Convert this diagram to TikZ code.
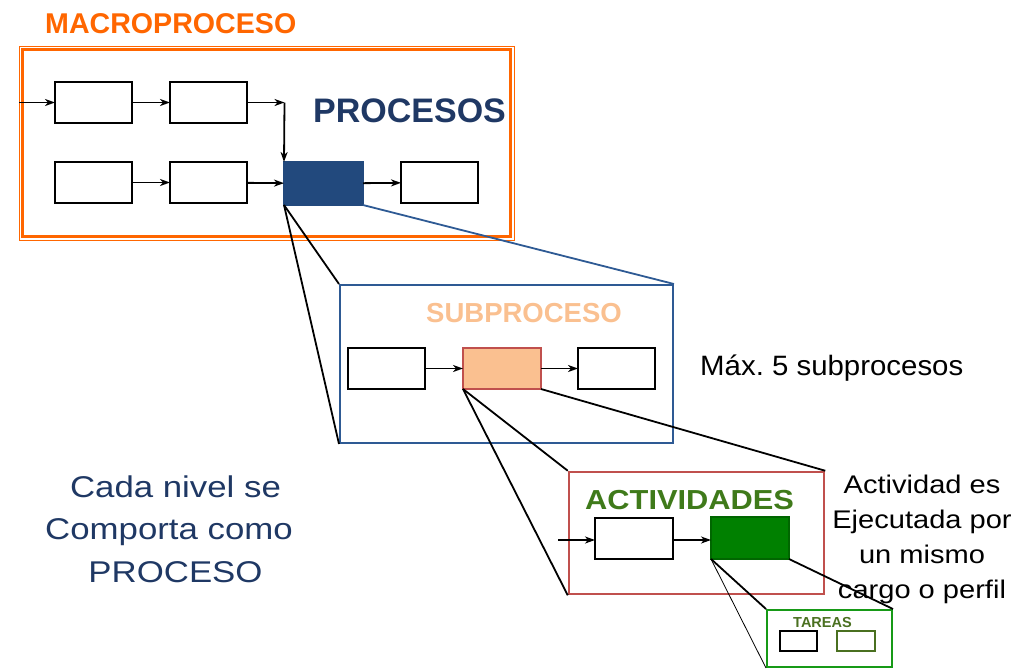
\documentclass[tikz,border=0pt]{standalone}
\usepackage{fontspec}
\setmainfont{Liberation Sans}
\usetikzlibrary{arrows.meta}
\frenchspacing
\definecolor{macro}{HTML}{FF6600}
\definecolor{procblue}{HTML}{1F3864}
\definecolor{darkbox}{HTML}{22497D}
\definecolor{subframe}{HTML}{2E5A94}
\definecolor{peach}{HTML}{FAC090}
\definecolor{redframe}{HTML}{C0504D}
\definecolor{actgreen}{HTML}{3F7A1A}
\definecolor{boxgreen}{HTML}{008000}
\definecolor{tarframe}{HTML}{179A17}
\definecolor{olive}{HTML}{4A7020}
\tikzset{
  pbox/.style={draw=black, line width=2pt, fill=white, minimum width=77pt, minimum height=41pt, inner sep=0pt, outer sep=0pt},
  flow/.style={line width=1.8pt, -{Stealth[length=10pt,width=7pt,inset=3pt]}},
  zoomline/.style={line width=1.8pt},
  lbl/.style={inner sep=0pt, anchor=base west},
  txt/.style={inner sep=0pt, anchor=base},
}
\begin{document}
\begin{tikzpicture}[x=1pt,y=-1pt]
\useasboundingbox (0,0) rectangle (1024,670);
% MACROPROCESO
\node[lbl, text=macro, font=\fontsize{28.6}{30}\selectfont\bfseries] (tmacro) at (45,33) {MACROPROCESO};
\draw[macro, line width=1pt] (19,46) rectangle (514,240);
\node[draw=macro, line width=3pt, minimum width=488pt, minimum height=187pt, inner sep=0pt] (macroframe) at (266.5,143) {};
\node[lbl, text=procblue, font=\fontsize{34}{36}\selectfont\bfseries] (tproc) at (313,122) {PROCESOS};
\node[pbox] (b1) at (93.5,102.5) {};
\node[pbox] (b2) at (208.5,102.5) {};
\node[pbox] (b3) at (93.5,182.5) {};
\node[pbox] (b4) at (208.5,182.5) {};
\node[pbox, draw=darkbox, fill=darkbox, minimum width=79pt, minimum height=43pt] (dk) at (323.5,183.5) {};
\node[pbox] (b5) at (439.5,182.5) {};
\coordinate (in1) at (19,102.5);
\coordinate (c1) at (284.5,102.5);
\draw[flow] (in1) -- (b1);
\draw[flow] (b1) -- (b2);
\draw[flow] (b2) -- (c1);
\draw[flow] (c1) -- (dk.north west);
\draw[flow] (b3) -- (b4);
\draw[flow] (b4) -- (dk);
\draw[flow] (dk) -- (b5);
% SUBPROCESO
\node[draw=subframe, line width=2pt, minimum width=333pt, minimum height=158pt, inner sep=0pt] (sub) at (506.5,364) {};
\draw[zoomline, subframe] (dk.south east) -- (sub.north east);
\draw[zoomline] (dk.south west) -- (sub.north west);
\draw[zoomline] (dk.south west) -- (sub.south west);
\node[lbl, text=peach, font=\fontsize{27.5}{30}\selectfont\bfseries] (tsub) at (426,322) {SUBPROCESO};
\node[pbox] (s1) at (386.5,368.5) {};
\node[pbox, draw=redframe, fill=peach, minimum width=78pt] (s2) at (502,368.5) {};
\node[pbox] (s3) at (616.5,368.5) {};
\draw[flow] (s1) -- (s2);
\draw[flow] (s2) -- (s3);
\node[lbl, font=\fontsize{28}{30}\selectfont, xscale=1.05, transform shape] (tmax) at (700,375) {Máx. 5 subprocesos};
% ACTIVIDADES
\node[draw=redframe, line width=2.5pt, minimum width=255pt, minimum height=122pt, inner sep=0pt] (act) at (696.5,533) {};
\draw[zoomline] (s2.south west) -- (act.north west);
\draw[zoomline] (s2.south west) -- (act.south west);
\draw[zoomline] (s2.south east) -- (act.north east);
\node[lbl, text=actgreen, font=\fontsize{27.5}{30}\selectfont\bfseries, xscale=1.12, transform shape] (tact) at (585,509) {ACTIVIDADES};
\node[pbox, minimum width=78pt] (a1) at (634,538) {};
\node[pbox, draw=boxgreen!80!black, line width=1.5pt, fill=boxgreen, minimum width=78pt, minimum height=42pt] (a2) at (750,538) {};
\coordinate (in2) at (558,540);
\draw[flow] (in2) -- (a1.west |- in2);
\draw[flow] (a1.east |- in2) -- (a2.west |- in2);
% TAREAS
\node[draw=tarframe, line width=2pt, minimum width=125pt, minimum height=57pt, inner sep=0pt] (tar) at (829.5,638.5) {};
\draw[line width=1.8pt] (a2.south west) -- (tar.north west);
\draw[line width=0.8pt] (a2.south west) -- (tar.south west);
\draw[line width=1.8pt] (a2.south east) -- (tar.north east);
\node[lbl, text=olive, font=\fontsize{14.5}{16}\selectfont\bfseries] (ttar) at (793,627) {TAREAS};
\node[pbox, minimum width=37pt, minimum height=20pt] (t1) at (798.5,641) {};
\node[pbox, draw=olive, minimum width=38pt, minimum height=20pt] (t2) at (856,641) {};
% Side texts
\begin{scope}[font=\fontsize{25.5}{35}\selectfont]
\node[txt, xscale=1.14, transform shape] (r1) at (922,493) {Actividad es};
\node[txt, xscale=1.14, transform shape] (r2) at (922,528) {Ejecutada por};
\node[txt, xscale=1.14, transform shape] (r3) at (922,563) {un mismo};
\node[txt, xscale=1.14, transform shape] (r4) at (922,598) {cargo o perfil};
\end{scope}
\begin{scope}[font=\fontsize{30}{42}\selectfont, text=procblue]
\node[txt, xscale=1.16, transform shape] (l1) at (175.5,497) {Cada nivel se};
\node[txt, xscale=1.16, transform shape] (l2) at (169,539.5) {Comporta como};
\node[txt, xscale=1.16, transform shape] (l3) at (175.5,582) {PROCESO};
\end{scope}
\end{tikzpicture}
\end{document}
